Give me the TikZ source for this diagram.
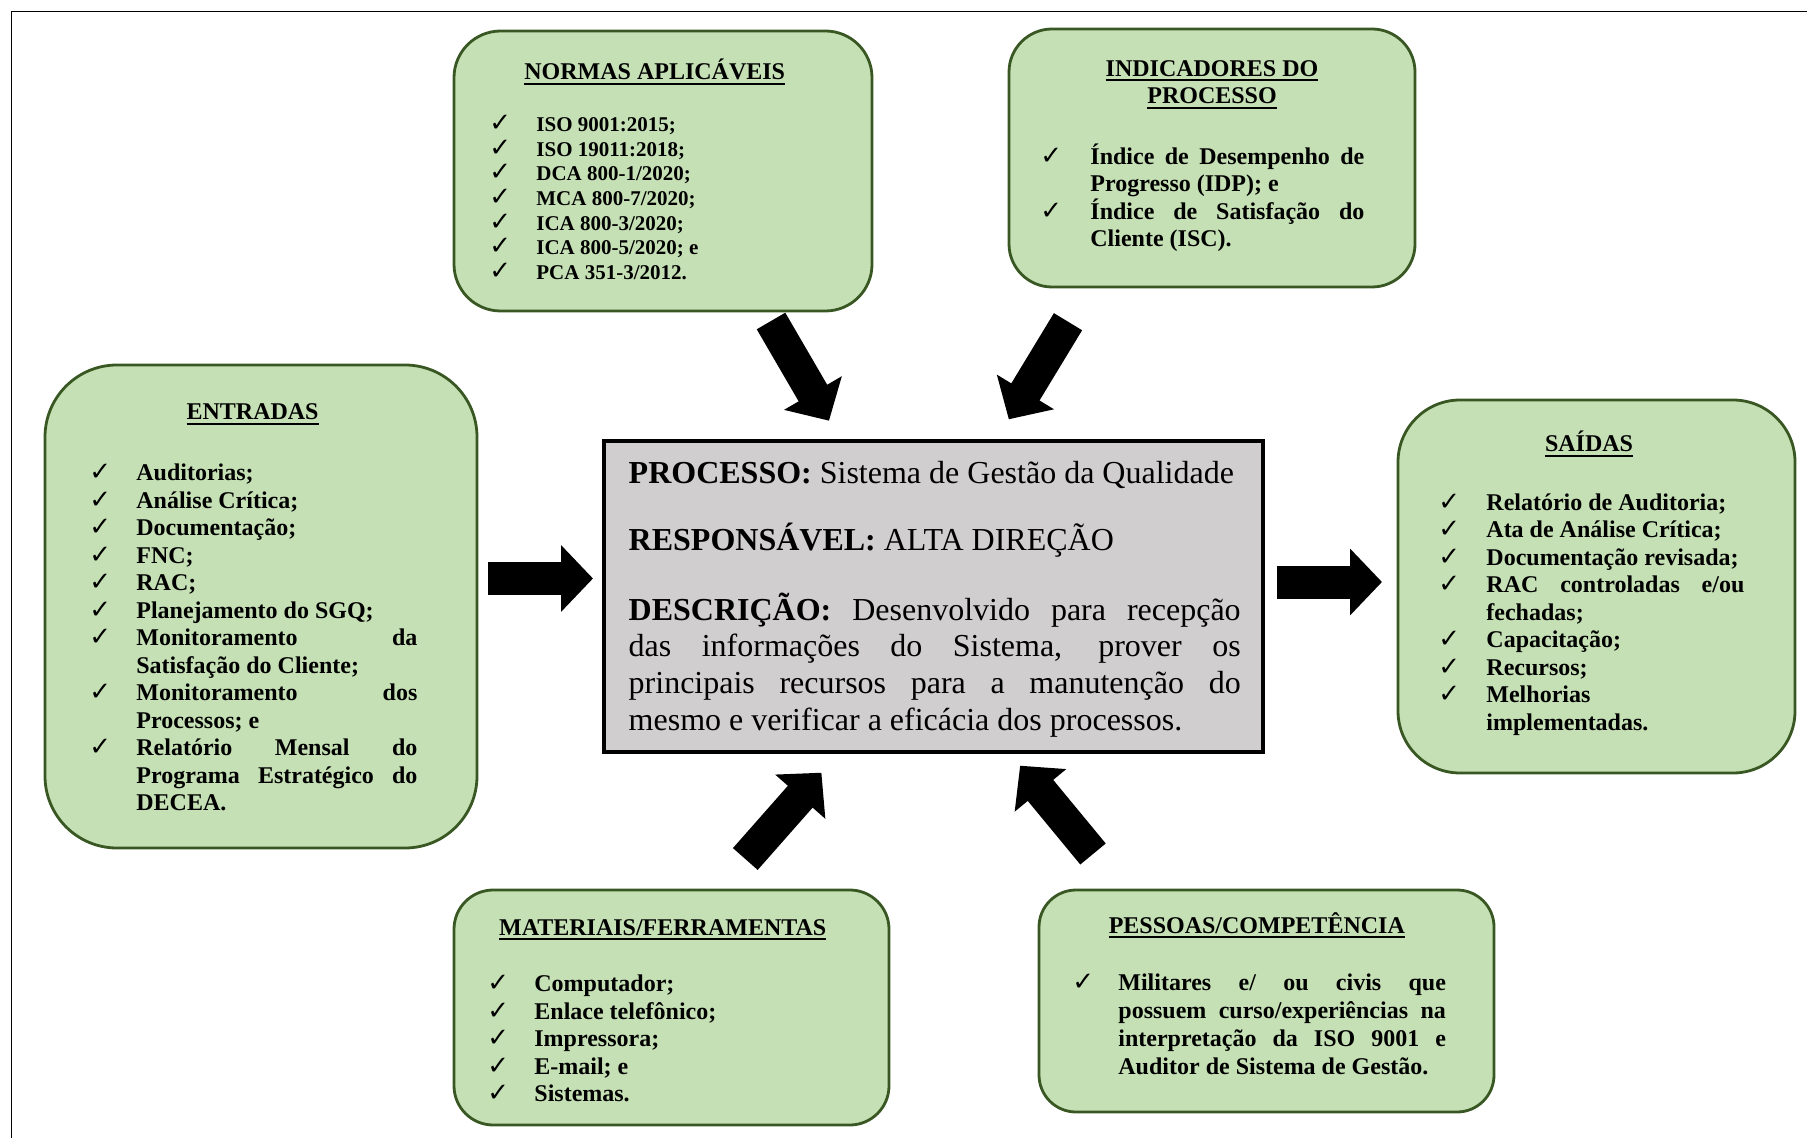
\documentclass[tikz,border=0pt]{standalone}
\usepackage{fontspec}
\setmainfont{Liberation Serif}
\newfontfamily\chkfont{DejaVu Sans}
\usetikzlibrary{arrows.meta}

\definecolor{boxfill}{HTML}{C5E0B4}
\definecolor{boxline}{HTML}{385723}
\definecolor{procfill}{HTML}{D0CECE}

\tolerance=10000 \hbadness=10000 \hyphenpenalty=10000 \exhyphenpenalty=10000

% underlined box titles
\newlength{\ulwd}
\newcommand{\titleline}[1]{\settowidth{\ulwd}{#1}\rlap{\rule[-2.4pt]{\ulwd}{0.9pt}}#1}

% check-mark items with hanging indent
\newlength{\chkhang}
\newcommand{\chkitem}[1]{\par\hangindent=\chkhang\hangafter=1\noindent\makebox[\chkhang][l]{\chkfont\fontsize{13pt}{13pt}\selectfont ✓}#1}

\tikzset{
  greenbox/.style={draw=boxline, fill=boxfill, line width=1.4pt, rounded corners=#1, anchor=north west, inner sep=0pt, outer sep=0pt},
  procbox/.style={draw=black, fill=procfill, line width=2pt, anchor=north west, inner sep=0pt, outer sep=0pt},
  titletext/.style={anchor=base, inner sep=0pt, font=\bfseries\fontsize{12pt}{13.75pt}\selectfont},
  itemtext/.style={anchor=base west, inner sep=0pt, font=\bfseries\fontsize{12pt}{13.75pt}\selectfont},
  proctext/.style={anchor=base west, inner sep=0pt, font=\fontsize{16pt}{18.35pt}\selectfont},
  blockarrow/.style={line width=16.5pt, -{Triangle[length=16pt, width=32.5pt]}}
}

\begin{document}
\begin{tikzpicture}[x=0.5pt,y=0.5pt,yscale=-1,xscale=1]
\useasboundingbox (0,0) rectangle (1807,1138);

%Page frame
\draw[line width=0.75pt] (11.5,1138) -- (11.5,11.5) -- (1807,11.5);

%Shape: Rounded Rect [id:entradas]
\node[greenbox=36pt, minimum width=216pt, minimum height=241.5pt] (entradas) at (45,365) {};
%Shape: Rounded Rect [id:normas]
\node[greenbox=23.3pt, minimum width=209pt, minimum height=140pt] (normas) at (454,31) {};
%Shape: Rounded Rect [id:indicadores]
\node[greenbox=21.5pt, minimum width=203pt, minimum height=129pt] (indicadores) at (1009,29) {};
%Shape: Rounded Rect [id:saidas]
\node[greenbox=31pt, minimum width=198.5pt, minimum height=186.5pt] (saidas) at (1398,400) {};
%Shape: Rounded Rect [id:materiais]
\node[greenbox=19.6pt, minimum width=217.5pt, minimum height=117.5pt] (materiais) at (454,890) {};
%Shape: Rounded Rect [id:pessoas]
\node[greenbox=18.5pt, minimum width=227.5pt, minimum height=111pt] (pessoas) at (1039,890) {};
%Shape: Rectangle [id:processo]
\node[procbox, minimum width=329.5pt, minimum height=155.5pt] (processo) at (604,441) {};

%Block Arrows
\coordinate (entTail) at (488,578.5);  \coordinate (entTip) at (593,578.5);
\coordinate (saiTail) at (1276.7,582); \coordinate (saiTip) at (1382,582);
\coordinate (norTail) at (771,321);    \coordinate (norTip) at (829,420.7);
\coordinate (indTail) at (1068,321.7); \coordinate (indTip) at (1008.8,419.3);
\coordinate (matTail) at (745.3,859);  \coordinate (matTip) at (821.4,772.7);
\coordinate (pesTail) at (1093,854);   \coordinate (pesTip) at (1020.1,765.7);
\draw[blockarrow] (entTail) -- (entTip);
\draw[blockarrow] (saiTail) -- (saiTip);
\draw[blockarrow] (norTail) -- (norTip);
\draw[blockarrow] (indTail) -- (indTip);
\draw[blockarrow] (matTail) -- (matTip);
\draw[blockarrow] (pesTail) -- (pesTip);

% Text Node
\node[proctext] (procLine) at (628.3,483.3) {\textbf{PROCESSO:} Sistema de Gestão da Qualidade};
% Text Node
\node[proctext] (respLine) at (628.3,550) {\textbf{RESPONSÁVEL:} ALTA DIREÇÃO};
% Text Node
\node[proctext] (descLine) at (628.3,620) {\parbox[t]{306pt}{\textbf{DESCRIÇÃO:} Desenvolvido para recepção\linebreak das informações do Sistema, prover os\linebreak principais recursos para a manutenção do\linebreak mesmo e verificar a eficácia dos processos.}};

% Text Node
\node[titletext] (entradasTitle) at (252.6,420) {\titleline{ENTRADAS}};
% Text Node
\node[itemtext] (entradasItems) at (89,480.7) {\parbox[t]{164pt}{\setlength{\chkhang}{23.5pt}%
  \chkitem{Auditorias;}
  \chkitem{Análise Crítica;}
  \chkitem{Documentação;}
  \chkitem{FNC;}
  \chkitem{RAC;}
  \chkitem{Planejamento do SGQ;}
  \chkitem{Monitoramento da\linebreak Satisfação do Cliente;}
  \chkitem{Monitoramento dos\linebreak Processos; e}
  \chkitem{Relatório Mensal do\linebreak Programa Estratégico do\linebreak DECEA.}}};

% Text Node
\node[titletext] (normasTitle) at (654.7,80) {\titleline{NORMAS APLICÁVEIS}};
% Text Node
\node[itemtext, font=\bfseries\fontsize{10.5pt}{12.3pt}\selectfont] (normasItems) at (489,131.7) {\parbox[t]{165pt}{\setlength{\chkhang}{23.5pt}%
  \chkitem{ISO 9001:2015;}
  \chkitem{ISO 19011:2018;}
  \chkitem{DCA 800-1/2020;}
  \chkitem{MCA 800-7/2020;}
  \chkitem{ICA 800-3/2020;}
  \chkitem{ICA 800-5/2020; e}
  \chkitem{PCA 351-3/2012.}}};

% Text Node
\node[titletext] (indicadoresTitle) at (1212,76.5) {\begin{tabular}[t]{@{}c@{}}\titleline{INDICADORES DO}\\\titleline{PROCESSO}\end{tabular}};
% Text Node
\node[itemtext] (indicadoresItems) at (1040,164.3) {\parbox[t]{162pt}{\setlength{\chkhang}{25pt}%
  \chkitem{Índice de Desempenho de\linebreak Progresso (IDP); e}
  \chkitem{Índice de Satisfação do\linebreak Cliente (ISC).}}};

% Text Node
\node[titletext] (saidasTitle) at (1589,451.7) {\titleline{SAÍDAS}};
% Text Node
\node[itemtext] (saidasItems) at (1438,510) {\parbox[t]{153pt}{\setlength{\chkhang}{24pt}%
  \chkitem{Relatório de Auditoria;}
  \chkitem{Ata de Análise Crítica;}
  \chkitem{Documentação revisada;}
  \chkitem{RAC controladas e/ou\linebreak fechadas;}
  \chkitem{Capacitação;}
  \chkitem{Recursos;}
  \chkitem{Melhorias\linebreak implementadas.}}};

% Text Node
\node[titletext] (materiaisTitle) at (662.7,935) {\titleline{MATERIAIS/FERRAMENTAS}};
% Text Node
\node[itemtext] (materiaisItems) at (487,991.7) {\parbox[t]{165pt}{\setlength{\chkhang}{23.5pt}%
  \chkitem{Computador;}
  \chkitem{Enlace telefônico;}
  \chkitem{Impressora;}
  \chkitem{E-mail; e}
  \chkitem{Sistemas.}}};

% Text Node
\node[titletext] (pessoasTitle) at (1256.8,933.3) {\titleline{PESSOAS/COMPETÊNCIA}};
% Text Node
\node[itemtext, font=\bfseries\fontsize{12pt}{14.15pt}\selectfont] (pessoasItems) at (1072,990) {\parbox[t]{186.75pt}{\setlength{\chkhang}{23pt}%
  \chkitem{Militares e/ ou civis que\linebreak possuem curso/experiências na\linebreak interpretação da ISO 9001 e\linebreak Auditor de Sistema de Gestão.}}};

\end{tikzpicture}
\end{document}
